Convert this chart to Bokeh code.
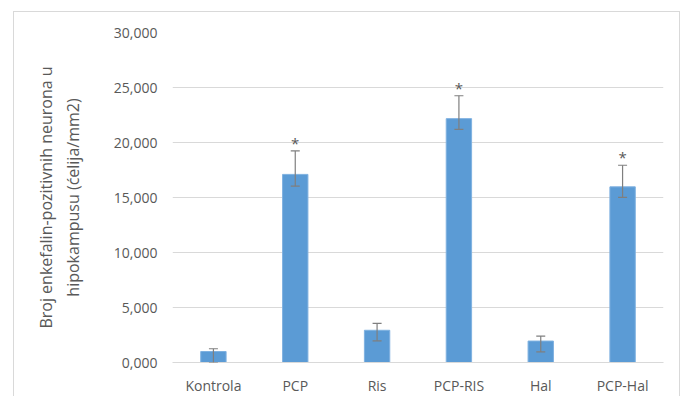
from bokeh.plotting import figure
from bokeh.models import ColumnDataSource, FactorRange, Range1d, FixedTicker, Whisker, TeeHead
from bokeh.core.properties import value
from bokeh.embed import file_html
from bokeh.resources import INLINE

categories = ["Kontrola", "PCP", "Ris", "PCP-RIS", "Hal", "PCP-Hal"]
values = [1000, 17100, 2930, 22170, 1950, 15970]
err_upper = [1250, 19230, 3560, 24250, 2400, 17930]
err_lower = [0, 16030, 1970, 21200, 960, 15010]
significant = ["", "*", "", "*", "", "*"]
y_ticks = [0, 5000, 10000, 15000, 20000, 25000, 30000]
y_tick_labels = ["0,000", "5,000", "10,000", "15,000", "20,000", "25,000", "30,000"]
y_label = "Broj enkefalin-pozitivnih neurona u\nhipokampusu (ćelija/mm2)"

FONT = "Open Sans"
GREY = "#595959"

src = ColumnDataSource(dict(cat=categories, val=values, up=err_upper, lo=err_lower))
star_cats = [c for c, s in zip(categories, significant) if s]
star_y = [u for u, s in zip(err_upper, significant) if s]
star_t = [s for s in significant if s]
star_src = ColumnDataSource(dict(cat=star_cats, y=star_y, t=star_t))

p = figure(width=667, height=385, x_range=FactorRange(*categories, range_padding=0),
           y_range=Range1d(0, 30000), output_backend="svg", toolbar_location=None,
           min_border_left=158, min_border_right=18, min_border_top=20, min_border_bottom=34)
p.styles = {"border": "1px solid #d9d9d9", "border-bottom": "none",
            "margin-left": "13px", "margin-top": "11px"}
p.outline_line_color = None
p.background_fill_color = "white"
p.border_fill_color = "white"

p.vbar(x="cat", top="val", width=0.31, source=src, fill_color="#5b9bd5",
       line_color="#7fb1e0", line_width=1)

w = Whisker(base="cat", upper="up", lower="lo", source=src, line_color="#7f7f7f", line_width=1.2,
            upper_head=TeeHead(size=9, line_color="#7f7f7f", line_width=1.2),
            lower_head=TeeHead(size=9, line_color="#7f7f7f", line_width=1.2),
            level="overlay")
p.add_layout(w)

p.text(x="cat", y="y", text="t", source=star_src, text_align="center", text_baseline="alphabetic",
       y_offset=-8, text_font=value(FONT), text_font_size="15px", text_color=GREY)

p.yaxis.ticker = FixedTicker(ticks=y_ticks)
p.yaxis.major_label_overrides = {t: l for t, l in zip(y_ticks, y_tick_labels)}
p.yaxis.axis_line_color = None
p.yaxis.major_tick_line_color = None
p.yaxis.minor_tick_line_color = None
p.yaxis.major_tick_out = 0
p.yaxis.major_tick_in = 0
p.yaxis.minor_tick_out = 0
p.yaxis.major_label_standoff = 15
p.yaxis.major_label_text_font = FONT
p.yaxis.major_label_text_font_size = "14px"
p.yaxis.major_label_text_color = GREY
p.yaxis.axis_label = y_label
p.yaxis.axis_label_text_font = FONT
p.yaxis.axis_label_text_font_size = "16px"
p.yaxis.axis_label_text_font_style = "normal"
p.yaxis.axis_label_text_color = GREY
p.yaxis.axis_label_standoff = 27

p.xaxis.axis_line_color = "#d9d9d9"
p.xaxis.major_tick_line_color = None
p.xaxis.minor_tick_line_color = None
p.xaxis.major_tick_out = 0
p.xaxis.major_tick_in = 0
p.xaxis.minor_tick_out = 0
p.xaxis.major_label_standoff = 13
p.xaxis.major_label_text_font = FONT
p.xaxis.major_label_text_font_size = "14px"
p.xaxis.major_label_text_color = GREY

p.xgrid.grid_line_color = None
p.ygrid.grid_line_color = "#d9d9d9"
p.ygrid.grid_line_width = 1

open("out.html", "w").write(file_html(p, INLINE))
